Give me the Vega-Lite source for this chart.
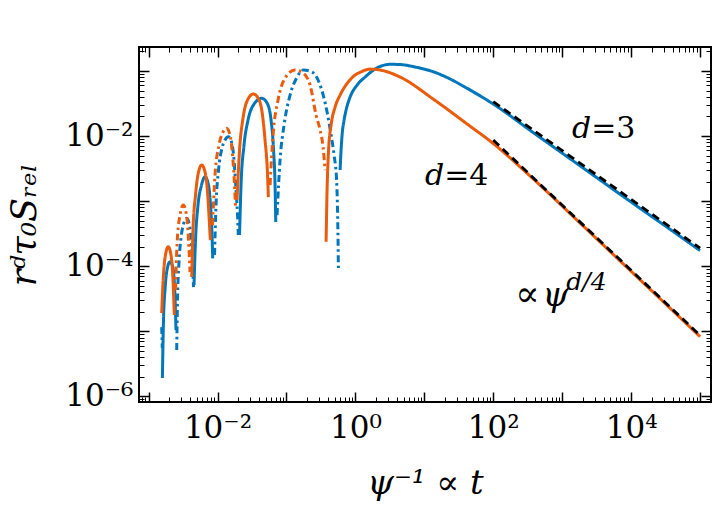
{
"$schema":"https://vega.github.io/schema/vega-lite/v6.json",
"width":572,"height":355,
"autosize":{"type":"none"},
"padding":{"left":139,"top":47,"right":10,"bottom":109},
"config":{"view":{"stroke":"black","strokeWidth":2},"font":"DejaVu Serif"},
"resolve":{"axis":{"x":"independent","y":"independent"}},
"datasets":{
"curves":[
{"s":"B0","d":"3","ls":"dashdot","x":0.001549,"y":1.164e-5},{"s":"B0","d":"3","ls":"dashdot","x":0.001565,"y":8.17e-6},{"s":"B0","d":"3","ls":"dashdot","x":0.00158,"y":5.54e-6},
{"s":"B1","d":"3","ls":"solid","x":0.001586,"y":1.917e-6},{"s":"B1","d":"3","ls":"solid","x":0.001645,"y":1.492e-5},{"s":"B1","d":"3","ls":"solid","x":0.00173,"y":4.309e-5},{"s":"B1","d":"3","ls":"solid","x":0.001849,"y":8.742e-5},{"s":"B1","d":"3","ls":"solid","x":0.002045,"y":1.172e-4},{"s":"B1","d":"3","ls":"solid","x":0.002223,"y":1.007e-4},{"s":"B1","d":"3","ls":"solid","x":0.002376,"y":5.142e-5},{"s":"B1","d":"3","ls":"solid","x":0.002498,"y":1.047e-5},
{"s":"B2","d":"3","ls":"dashdot","x":0.002557,"y":5.162e-6},{"s":"B2","d":"3","ls":"dashdot","x":0.002627,"y":3.026e-5},{"s":"B2","d":"3","ls":"dashdot","x":0.002762,"y":1.16e-4},{"s":"B2","d":"3","ls":"dashdot","x":0.002953,"y":2.711e-4},{"s":"B2","d":"3","ls":"dashdot","x":0.00321,"y":4.447e-4},{"s":"B2","d":"3","ls":"dashdot","x":0.003573,"y":5.44e-4},{"s":"B2","d":"3","ls":"dashdot","x":0.003923,"y":4.293e-4},{"s":"B2","d":"3","ls":"dashdot","x":0.004195,"y":2.117e-4},{"s":"B2","d":"3","ls":"dashdot","x":0.00441,"y":7.323e-5},{"s":"B2","d":"3","ls":"dashdot","x":0.004485,"y":4.791e-5},
{"s":"B3","d":"3","ls":"solid","x":0.00456,"y":5.142e-5},{"s":"B3","d":"3","ls":"solid","x":0.004795,"y":2.526e-4},{"s":"B3","d":"3","ls":"solid","x":0.005212,"y":8.711e-4},{"s":"B3","d":"3","ls":"solid","x":0.005859,"y":0.001767},{"s":"B3","d":"3","ls":"solid","x":0.006587,"y":0.00237},{"s":"B3","d":"3","ls":"solid","x":0.007402,"y":0.001767},{"s":"B3","d":"3","ls":"solid","x":0.007912,"y":8.711e-4},{"s":"B3","d":"3","ls":"solid","x":0.008322,"y":3.015e-4},{"s":"B3","d":"3","ls":"solid","x":0.008518,"y":1.322e-4},
{"s":"B4","d":"3","ls":"dashdot","x":0.009048,"y":1.486e-4},{"s":"B4","d":"3","ls":"dashdot","x":0.009511,"y":8.711e-4},{"s":"B4","d":"3","ls":"dashdot","x":0.01034,"y":0.003004},{"s":"B4","d":"3","ls":"dashdot","x":0.01162,"y":0.00654},{"s":"B4","d":"3","ls":"dashdot","x":0.01285,"y":0.008682},{"s":"B4","d":"3","ls":"dashdot","x":0.01435,"y":0.009754},{"s":"B4","d":"3","ls":"dashdot","x":0.01596,"y":0.008087},{"s":"B4","d":"3","ls":"dashdot","x":0.01736,"y":0.004279},{"s":"B4","d":"3","ls":"dashdot","x":0.01855,"y":0.001481},{"s":"B4","d":"3","ls":"dashdot","x":0.01951,"y":6.115e-4},{"s":"B4","d":"3","ls":"dashdot","x":0.02004,"y":3.015e-4},
{"s":"B5","d":"3","ls":"solid","x":0.02086,"y":3.015e-4},{"s":"B5","d":"3","ls":"solid","x":0.02193,"y":0.001767},{"s":"B5","d":"3","ls":"solid","x":0.02424,"y":0.007273},{"s":"B5","d":"3","ls":"solid","x":0.02771,"y":0.01761},{"s":"B5","d":"3","ls":"solid","x":0.03387,"y":0.03102},{"s":"B5","d":"3","ls":"solid","x":0.0438,"y":0.03794},{"s":"B5","d":"3","ls":"solid","x":0.0523,"y":0.03213},{"s":"B5","d":"3","ls":"solid","x":0.05977,"y":0.01761},{"s":"B5","d":"3","ls":"solid","x":0.06498,"y":0.006093},{"s":"B5","d":"3","ls":"solid","x":0.06831,"y":0.001767},{"s":"B5","d":"3","ls":"solid","x":0.06993,"y":4.775e-4},
{"s":"B6","d":"3","ls":"dashdot","x":0.07307,"y":6.115e-4},{"s":"B6","d":"3","ls":"dashdot","x":0.08074,"y":0.004279},{"s":"B6","d":"3","ls":"dashdot","x":0.09231,"y":0.01476},{"s":"B6","d":"3","ls":"dashdot","x":0.1128,"y":0.04265},{"s":"B6","d":"3","ls":"dashdot","x":0.1402,"y":0.0778},{"s":"B6","d":"3","ls":"dashdot","x":0.1759,"y":0.1032},{"s":"B6","d":"3","ls":"dashdot","x":0.2353,"y":0.09618},{"s":"B6","d":"3","ls":"dashdot","x":0.3075,"y":0.06074},{"s":"B6","d":"3","ls":"dashdot","x":0.3884,"y":0.02337},{"s":"B6","d":"3","ls":"dashdot","x":0.4439,"y":0.01036},{"s":"B6","d":"3","ls":"dashdot","x":0.4908,"y":0.005106},{"s":"B6","d":"3","ls":"dashdot","x":0.5335,"y":0.002109},{"s":"B6","d":"3","ls":"dashdot","x":0.5572,"y":3.598e-4},{"s":"B6","d":"3","ls":"dashdot","x":0.5666,"y":9.385e-5},
{"s":"B7","d":"3","ls":"solid","x":0.5997,"y":0.003004},{"s":"B7","d":"3","ls":"solid","x":0.6198,"y":0.006093},{"s":"B7","d":"3","ls":"solid","x":0.6412,"y":0.01036},{"s":"B7","d":"3","ls":"solid","x":0.6852,"y":0.01761},{"s":"B7","d":"3","ls":"solid","x":0.7328,"y":0.02508},{"s":"B7","d":"3","ls":"solid","x":0.8379,"y":0.03973},{"s":"B7","d":"3","ls":"solid","x":1.0585,"y":0.06074},{"s":"B7","d":"3","ls":"solid","x":1.383,"y":0.08056},{"s":"B7","d":"3","ls":"solid","x":1.932,"y":0.107},{"s":"B7","d":"3","ls":"solid","x":3.189,"y":0.1263},{"s":"B7","d":"3","ls":"solid","x":4.455,"y":0.1254},{"s":"B7","d":"3","ls":"solid","x":7.355,"y":0.1148},{"s":"B7","d":"3","ls":"solid","x":13.42,"y":0.09721},{"s":"B7","d":"3","ls":"solid","x":23.69,"y":0.0751},{"s":"B7","d":"3","ls":"solid","x":41.81,"y":0.05404},{"s":"B7","d":"3","ls":"solid","x":100,"y":0.03102},{"s":"B7","d":"3","ls":"solid","x":379,"y":0.01132},{"s":"B7","d":"3","ls":"solid","x":2018,"y":0.003225},{"s":"B7","d":"3","ls":"solid","x":10730,"y":9.185e-4},{"s":"B7","d":"3","ls":"solid","x":40830,"y":3.412e-4},{"s":"B7","d":"3","ls":"solid","x":100000,"y":1.742e-4},
{"s":"O1","d":"4","ls":"solid","x":0.001549,"y":1.91e-5},{"s":"O1","d":"4","ls":"solid","x":0.001618,"y":5.518e-5},{"s":"O1","d":"4","ls":"solid","x":0.00173,"y":1.336e-4},{"s":"O1","d":"4","ls":"solid","x":0.001932,"y":1.993e-4},{"s":"O1","d":"4","ls":"solid","x":0.002114,"y":1.486e-4},{"s":"O1","d":"4","ls":"solid","x":0.00226,"y":6.138e-5},{"s":"O1","d":"4","ls":"solid","x":0.00236,"y":1.78e-5},
{"s":"O2","d":"4","ls":"dashdot","x":0.002457,"y":4.309e-5},{"s":"O2","d":"4","ls":"dashdot","x":0.002583,"y":2.117e-4},{"s":"O2","d":"4","ls":"dashdot","x":0.002856,"y":6.115e-4},{"s":"O2","d":"4","ls":"dashdot","x":0.003189,"y":8.711e-4},{"s":"O2","d":"4","ls":"dashdot","x":0.003549,"y":6.115e-4},{"s":"O2","d":"4","ls":"dashdot","x":0.003794,"y":2.526e-4},{"s":"O2","d":"4","ls":"dashdot","x":0.00399,"y":8.145e-5},
{"s":"O3","d":"4","ls":"solid","x":0.004223,"y":6.823e-5},{"s":"O3","d":"4","ls":"solid","x":0.00441,"y":3.598e-4},{"s":"O3","d":"4","ls":"solid","x":0.004795,"y":0.001241},{"s":"O3","d":"4","ls":"solid","x":0.0053,"y":0.002799},{"s":"O3","d":"4","ls":"solid","x":0.005898,"y":0.003585},{"s":"O3","d":"4","ls":"solid","x":0.006587,"y":0.002799},{"s":"O3","d":"4","ls":"solid","x":0.007159,"y":0.00138},{"s":"O3","d":"4","ls":"solid","x":0.007653,"y":4.293e-4},{"s":"O3","d":"4","ls":"solid","x":0.00786,"y":2.526e-4},
{"s":"O4","d":"4","ls":"dashdot","x":0.008461,"y":4.293e-4},{"s":"O4","d":"4","ls":"dashdot","x":0.009199,"y":0.002517},{"s":"O4","d":"4","ls":"dashdot","x":0.01051,"y":0.007273},{"s":"O4","d":"4","ls":"dashdot","x":0.01202,"y":0.01152},{"s":"O4","d":"4","ls":"dashdot","x":0.0136,"y":0.01313},{"s":"O4","d":"4","ls":"dashdot","x":0.01518,"y":0.01036},{"s":"O4","d":"4","ls":"dashdot","x":0.01651,"y":0.005106},{"s":"O4","d":"4","ls":"dashdot","x":0.01765,"y":0.001767},{"s":"O4","d":"4","ls":"dashdot","x":0.01825,"y":8.115e-4},
{"s":"O5","d":"4","ls":"solid","x":0.01919,"y":0.001039},{"s":"O5","d":"4","ls":"solid","x":0.02086,"y":0.006093},{"s":"O5","d":"4","ls":"solid","x":0.02345,"y":0.0189},{"s":"O5","d":"4","ls":"solid","x":0.02771,"y":0.03702},{"s":"O5","d":"4","ls":"solid","x":0.03308,"y":0.04418},{"s":"O5","d":"4","ls":"solid","x":0.03871,"y":0.03835},{"s":"O5","d":"4","ls":"solid","x":0.04425,"y":0.02337},{"s":"O5","d":"4","ls":"solid","x":0.04891,"y":0.008682},{"s":"O5","d":"4","ls":"solid","x":0.05318,"y":0.002517},{"s":"O5","d":"4","ls":"solid","x":0.05462,"y":0.001156},
{"s":"O6","d":"4","ls":"dashdot","x":0.05781,"y":0.001767},{"s":"O6","d":"4","ls":"dashdot","x":0.0639,"y":0.01036},{"s":"O6","d":"4","ls":"dashdot","x":0.07555,"y":0.03573},{"s":"O6","d":"4","ls":"dashdot","x":0.09544,"y":0.0778},{"s":"O6","d":"4","ls":"dashdot","x":0.1333,"y":0.1032},{"s":"O6","d":"4","ls":"dashdot","x":0.1741,"y":0.09284},{"s":"O6","d":"4","ls":"dashdot","x":0.2201,"y":0.06074},{"s":"O6","d":"4","ls":"dashdot","x":0.2689,"y":0.02102},{"s":"O6","d":"4","ls":"dashdot","x":0.3075,"y":0.01236},{"s":"O6","d":"4","ls":"dashdot","x":0.3398,"y":0.006776},{"s":"O6","d":"4","ls":"dashdot","x":0.3633,"y":0.003004},
{"s":"O7","d":"4","ls":"solid","x":0.3756,"y":2.378e-4},{"s":"O7","d":"4","ls":"solid","x":0.3884,"y":0.001481},{"s":"O7","d":"4","ls":"solid","x":0.4083,"y":0.006093},{"s":"O7","d":"4","ls":"solid","x":0.4439,"y":0.01476},{"s":"O7","d":"4","ls":"solid","x":0.5075,"y":0.02788},{"s":"O7","d":"4","ls":"solid","x":0.5997,"y":0.04255},{"s":"O7","d":"4","ls":"solid","x":0.7087,"y":0.05805},{"s":"O7","d":"4","ls":"solid","x":0.8379,"y":0.07305},{"s":"O7","d":"4","ls":"solid","x":0.9904,"y":0.08650},{"s":"O7","d":"4","ls":"solid","x":1.17,"y":0.09527},{"s":"O7","d":"4","ls":"solid","x":1.635,"y":0.1066},{"s":"O7","d":"4","ls":"solid","x":2.283,"y":0.1032},{"s":"O7","d":"4","ls":"solid","x":4.455,"y":0.08056},{"s":"O7","d":"4","ls":"solid","x":13.42,"y":0.03702},{"s":"O7","d":"4","ls":"solid","x":41.81,"y":0.01529},{"s":"O7","d":"4","ls":"solid","x":100,"y":0.007669},{"s":"O7","d":"4","ls":"solid","x":379,"y":0.0022},{"s":"O7","d":"4","ls":"solid","x":2018,"y":4.145e-4},{"s":"O7","d":"4","ls":"solid","x":10730,"y":7.78e-5},{"s":"O7","d":"4","ls":"solid","x":40830,"y":2.043e-5},{"s":"O7","d":"4","ls":"solid","x":100000,"y":8.29e-6}
],
"asym":[
{"d":"3","x":100,"y":0.03364},{"d":"3","x":100000,"y":1.892e-4},
{"d":"4","x":100,"y":0.00868},{"d":"4","x":100000,"y":8.68e-6}
],
"labels":[
{"g":"it","t":"d","x":2636,"y":0.009317},
{"g":"it","t":"d","x":19.39,"y":0.001767},
{"g":"up","t":"=3","x":2636,"y":0.009317},
{"g":"up","t":"=4","x":19.39,"y":0.001767},
{"g":"prop","t":"∝","x":207.9,"y":2.446e-5},
{"g":"psi","t":"ψ","x":512.6,"y":2.446e-5},
{"g":"sup","t":"d/4","x":1143,"y":4.3e-5}
]
},
"layer":[
{
"data":{"name":"curves"},
"mark":{"type":"line","strokeWidth":3,"interpolate":"monotone"},
"encoding":{
"x":{"field":"x","type":"quantitative","scale":{"type":"log","domain":[0.000726,144000],"nice":false},
 "axis":{"orient":"bottom","domain":false,"grid":false,
  "values":[0.0008,0.0009,0.001,0.002,0.003,0.004,0.005,0.006,0.007,0.008,0.009,0.01,0.02,0.03,0.04,0.05,0.06,0.07,0.08,0.09,0.1,0.2,0.3,0.4,0.5,0.6,0.7,0.8,0.9,1,2,3,4,5,6,7,8,9,10,20,30,40,50,60,70,80,90,100,200,300,400,500,600,700,800,900,1000,2000,3000,4000,5000,6000,7000,8000,9000,10000,20000,30000,40000,50000,60000,70000,80000,90000,100000],
  "labelExpr":"abs(log(datum.value)/LN10-round(log(datum.value)/LN10))>1e-6 ? '' : round(log(datum.value)/LN10)==-2 ? '10⁻²' : round(log(datum.value)/LN10)==0 ? '10⁰' : round(log(datum.value)/LN10)==2 ? '10²' : round(log(datum.value)/LN10)==4 ? '10⁴' : ''",
  "tickSize":{"condition":{"test":"abs(log(datum.value)/LN10-round(log(datum.value)/LN10))<1e-6","value":-10},"value":-5},
  "tickWidth":{"condition":{"test":"abs(log(datum.value)/LN10-round(log(datum.value)/LN10))<1e-6","value":1.5},"value":1},
  "tickColor":"black","labelColor":"black","labelFont":"DejaVu Serif","labelFontSize":31,"labelPadding":21,
  "labelOverlap":false,"labelFlush":false,"labelBound":false,
  "title":"ψ⁻¹ ∝ t","titleFont":"DejaVu Serif","titleFontSize":34,"titleFontWeight":"normal","titleFontStyle":"italic","titleColor":"black","titlePadding":18}},
"y":{"field":"y","type":"quantitative","scale":{"type":"log","domain":[8.23e-7,0.233],"nice":false},
 "axis":{"orient":"left","domain":false,"grid":false,
  "values":[9e-7,1e-6,2e-6,3e-6,4e-6,5e-6,6e-6,7e-6,8e-6,9e-6,1e-5,2e-5,3e-5,4e-5,5e-5,6e-5,7e-5,8e-5,9e-5,1e-4,2e-4,3e-4,4e-4,5e-4,6e-4,7e-4,8e-4,9e-4,0.001,0.002,0.003,0.004,0.005,0.006,0.007,0.008,0.009,0.01,0.02,0.03,0.04,0.05,0.06,0.07,0.08,0.09,0.1,0.2],
  "labelExpr":"abs(log(datum.value)/LN10-round(log(datum.value)/LN10))>1e-6 ? '' : round(log(datum.value)/LN10)==-2 ? '10⁻²' : round(log(datum.value)/LN10)==-4 ? '10⁻⁴' : round(log(datum.value)/LN10)==-6 ? '10⁻⁶' : ''",
  "tickSize":{"condition":{"test":"abs(log(datum.value)/LN10-round(log(datum.value)/LN10))<1e-6","value":-10},"value":-5},
  "tickWidth":{"condition":{"test":"abs(log(datum.value)/LN10-round(log(datum.value)/LN10))<1e-6","value":1.5},"value":1},
  "tickColor":"black","labelColor":"black","labelFont":"DejaVu Serif","labelFontSize":31,"labelPadding":16,
  "labelOverlap":false,"labelFlush":false,"labelBound":false,
  "title":"rᵈτ₀Sᵣₑₗ","titleFont":"DejaVu Serif","titleFontSize":35,"titleFontWeight":"normal","titleFontStyle":"italic","titleColor":"black","titlePadding":22}},
"color":{"field":"d","type":"nominal","scale":{"domain":["3","4"],"range":["#0077BB","#EA5B0C"]},"legend":null},
"strokeDash":{"field":"ls","type":"nominal","scale":{"domain":["solid","dashdot"],"range":[[1,0],[7,3.5,2.5,3.5]]},"legend":null},
"detail":{"field":"s"}
}
},
{
"data":{"name":"asym"},
"mark":{"type":"line","strokeWidth":2.8,"color":"black","strokeDash":[8,5]},
"encoding":{
"x":{"field":"x","type":"quantitative","scale":{"type":"log","domain":[0.000726,144000],"nice":false},
 "axis":{"orient":"top","domain":false,"grid":false,"labels":false,"title":null,
  "values":[0.0008,0.0009,0.001,0.002,0.003,0.004,0.005,0.006,0.007,0.008,0.009,0.01,0.02,0.03,0.04,0.05,0.06,0.07,0.08,0.09,0.1,0.2,0.3,0.4,0.5,0.6,0.7,0.8,0.9,1,2,3,4,5,6,7,8,9,10,20,30,40,50,60,70,80,90,100,200,300,400,500,600,700,800,900,1000,2000,3000,4000,5000,6000,7000,8000,9000,10000,20000,30000,40000,50000,60000,70000,80000,90000,100000],
  "tickSize":{"condition":{"test":"abs(log(datum.value)/LN10-round(log(datum.value)/LN10))<1e-6","value":-10},"value":-5},
  "tickWidth":{"condition":{"test":"abs(log(datum.value)/LN10-round(log(datum.value)/LN10))<1e-6","value":1.5},"value":1},
  "tickColor":"black"}},
"y":{"field":"y","type":"quantitative","scale":{"type":"log","domain":[8.23e-7,0.233],"nice":false},
 "axis":{"orient":"right","domain":false,"grid":false,"labels":false,"title":null,
  "values":[9e-7,1e-6,2e-6,3e-6,4e-6,5e-6,6e-6,7e-6,8e-6,9e-6,1e-5,2e-5,3e-5,4e-5,5e-5,6e-5,7e-5,8e-5,9e-5,1e-4,2e-4,3e-4,4e-4,5e-4,6e-4,7e-4,8e-4,9e-4,0.001,0.002,0.003,0.004,0.005,0.006,0.007,0.008,0.009,0.01,0.02,0.03,0.04,0.05,0.06,0.07,0.08,0.09,0.1,0.2],
  "tickSize":{"condition":{"test":"abs(log(datum.value)/LN10-round(log(datum.value)/LN10))<1e-6","value":-10},"value":-5},
  "tickWidth":{"condition":{"test":"abs(log(datum.value)/LN10-round(log(datum.value)/LN10))<1e-6","value":1.5},"value":1},
  "tickColor":"black"}},
"detail":{"field":"d"}
}
},
{
"data":{"name":"labels"},
"transform":[{"filter":"datum.g=='it'"}],
"mark":{"type":"text","font":"DejaVu Serif","fontSize":30,"fontStyle":"italic","align":"right","baseline":"alphabetic","color":"black"},
"encoding":{"x":{"field":"x","type":"quantitative","axis":null},"y":{"field":"y","type":"quantitative","axis":null},"text":{"field":"t"}}
},
{
"data":{"name":"labels"},
"transform":[{"filter":"datum.g=='up'"}],
"mark":{"type":"text","font":"DejaVu Serif","fontSize":30,"align":"left","baseline":"alphabetic","color":"black"},
"encoding":{"x":{"field":"x","type":"quantitative","axis":null},"y":{"field":"y","type":"quantitative","axis":null},"text":{"field":"t"}}
},
{
"data":{"name":"labels"},
"transform":[{"filter":"datum.g=='prop'"}],
"mark":{"type":"text","font":"DejaVu Serif","fontSize":36,"align":"left","baseline":"alphabetic","color":"black"},
"encoding":{"x":{"field":"x","type":"quantitative","axis":null},"y":{"field":"y","type":"quantitative","axis":null},"text":{"field":"t"}}
},
{
"data":{"name":"labels"},
"transform":[{"filter":"datum.g=='psi'"}],
"mark":{"type":"text","font":"DejaVu Serif","fontSize":34,"fontStyle":"italic","align":"left","baseline":"alphabetic","color":"black"},
"encoding":{"x":{"field":"x","type":"quantitative","axis":null},"y":{"field":"y","type":"quantitative","axis":null},"text":{"field":"t"}}
},
{
"data":{"name":"labels"},
"transform":[{"filter":"datum.g=='sup'"}],
"mark":{"type":"text","font":"DejaVu Serif","fontSize":25,"fontStyle":"italic","align":"left","baseline":"alphabetic","color":"black"},
"encoding":{"x":{"field":"x","type":"quantitative","axis":null},"y":{"field":"y","type":"quantitative","axis":null},"text":{"field":"t"}}
}
]
}
